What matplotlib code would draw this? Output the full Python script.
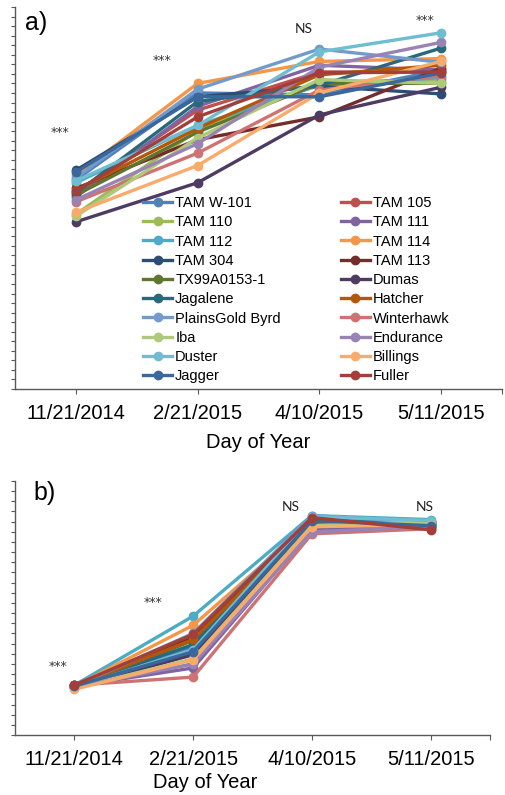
import numpy as np
import matplotlib
matplotlib.use("Agg")
import matplotlib.pyplot as plt
from matplotlib.ticker import MultipleLocator, FixedLocator

dates = ["11/21/2014", "2/21/2015", "4/10/2015", "5/11/2015"]

lines = ["TAM W-101", "TAM 105", "TAM 110", "TAM 111", "TAM 112", "TAM 114",
         "TAM 304", "TAM 113", "TX99A0153-1", "Dumas", "Jagalene", "Hatcher",
         "PlainsGold Byrd", "Winterhawk", "Iba", "Endurance", "Duster",
         "Billings", "Jagger", "Fuller"]

colors = ["#4F81BD", "#C0504D", "#9BBB59", "#8064A2", "#4BACC6", "#F79646",
          "#2C4D75", "#772C2A", "#5F7530", "#4D3B62", "#276A7C", "#B65708",
          "#729ACA", "#CD7371", "#AFC97A", "#9983B5", "#6FBDD1", "#F9AB6B",
          "#3A679C", "#A33F3B"]

# panel a values (unlabelled y scale)
vals_a = [
    [21.9, 31.0, 30.8, 33.4],
    [20.6, 29.2, 33.2, 33.2],
    [18.3, 27.1, 32.1, 32.4],
    [20.1, 29.6, 33.9, 33.4],
    [21.6, 27.6, 31.8, 32.6],
    [22.4, 32.0, 34.3, 34.6],
    [22.9, 30.6, 31.7, 30.9],
    [21.0, 26.1, 28.5, 33.6],
    [20.3, 26.9, 32.0, 32.0],
    [17.5, 21.6, 28.7, 31.6],
    [20.5, 30.1, 31.8, 35.7],
    [20.8, 27.3, 32.9, 33.9],
    [22.1, 31.4, 35.6, 34.2],
    [19.6, 24.7, 31.3, 32.8],
    [18.1, 26.3, 32.4, 32.0],
    [19.8, 25.7, 33.7, 36.3],
    [21.8, 27.6, 35.3, 37.3],
    [18.5, 23.4, 31.0, 34.3],
    [22.7, 30.6, 30.6, 33.1],
    [20.7, 28.5, 33.1, 33.2],
]

# panel b values
vals_b = [
    [4.8, 8.6, 21.2, 20.9],
    [4.9, 9.8, 21.4, 20.3],
    [4.7, 7.0, 20.8, 20.8],
    [4.8, 6.6, 20.2, 20.6],
    [4.9, 11.7, 21.6, 21.2],
    [4.8, 10.8, 21.0, 20.9],
    [4.8, 8.0, 21.2, 20.5],
    [4.9, 9.6, 21.3, 21.0],
    [4.8, 9.3, 21.1, 21.0],
    [4.7, 7.9, 21.0, 20.7],
    [4.8, 8.9, 21.3, 20.8],
    [4.8, 9.4, 20.9, 20.6],
    [4.8, 10.0, 21.6, 20.9],
    [4.9, 5.7, 19.8, 20.3],
    [4.6, 7.5, 20.6, 21.0],
    [4.7, 7.0, 20.0, 20.5],
    [4.7, 8.4, 21.5, 21.1],
    [4.5, 7.4, 20.5, 20.7],
    [4.8, 8.2, 21.1, 20.6],
    [4.9, 9.9, 21.4, 20.2],
]

sig_a = [("***", -0.13, 26.9), ("***", 0.71, 34.4), ("NS", 1.87, 37.7), ("***", 2.87, 38.6)]
sig_b = [("***", -0.14, 6.7), ("***", 0.66, 13.0), ("NS", 1.82, 22.4), ("NS", 2.95, 22.4)]

plt.rcParams['font.family'] = ['Liberation Sans', 'DejaVu Sans']

fig = plt.figure(figsize=(5.05, 7.95), dpi=100)
ax_a = fig.add_axes([15/505, 1 - 389/795, 487/505, 382/795])
ax_b = fig.add_axes([15/505, 1 - 735/795, 475/505, 254/795])

x = np.arange(len(dates))
axis_col = "#595959"


def style(ax, ymax, sig, tag):
    ax.set_xlim(-0.5, 3.5)
    ax.set_ylim(0, ymax)
    ax.yaxis.set_major_locator(MultipleLocator(1))
    ax.set_yticklabels([])
    ax.set_xticks(x)
    ax.set_xticklabels(dates, fontsize=14.5)
    ax.xaxis.set_minor_locator(FixedLocator([3.5]))
    ax.tick_params(axis='y', direction='out', length=3, width=0.8, color=axis_col)
    ax.tick_params(axis='x', which='both', direction='out', length=3.5, width=0.8,
                   color=axis_col, pad=7)
    for s in ["top", "right"]:
        ax.spines[s].set_visible(False)
    for s in ["left", "bottom"]:
        ax.spines[s].set_color(axis_col)
        ax.spines[s].set_linewidth(1.0)
    for txt, tx, ty in sig:
        if txt == "NS":
            ax.text(tx, ty, txt, fontsize=10, family=['Lato', 'DejaVu Sans'],
                    ha='center', va='center', color='#222222')
        else:
            ax.text(tx, ty, txt, fontsize=9, family=['DejaVu Sans'],
                    ha='center', va='center', color='#333333')
    ax.text(0.02 if tag == "a)" else 0.038, 0.958 if tag == "a)" else 0.953, tag,
            transform=ax.transAxes, fontsize=18, va='center', ha='left')


handles = []
for name, c, v in zip(lines, colors, vals_a):
    h, = ax_a.plot(x, v, color=c, lw=2.4, marker='o', ms=6, label=name)
    handles.append(h)
for name, c, v in zip(lines, colors, vals_b):
    ax_b.plot(x, v, color=c, lw=2.4, marker='o', ms=6)

style(ax_a, 40, sig_a, "a)")
style(ax_b, 25, sig_b, "b)")

ax_a.set_xlabel("Day of Year", fontsize=14.5)
ax_a.xaxis.set_label_coords(0.5, -0.115)
ax_b.set_xlabel("Day of Year", fontsize=14.5)
ax_b.xaxis.set_label_coords(0.40, -0.148)

order = handles[0::2] + handles[1::2]
ax_a.legend(order, [h.get_label() for h in order], ncol=2, frameon=False,
            fontsize=10.5, loc='upper left', bbox_to_anchor=(0.263, 0.505),
            borderpad=0, borderaxespad=0, handlelength=2.0, handletextpad=0.2,
            columnspacing=4.1, labelspacing=0.36)

fig.savefig("out.png", dpi=100)
